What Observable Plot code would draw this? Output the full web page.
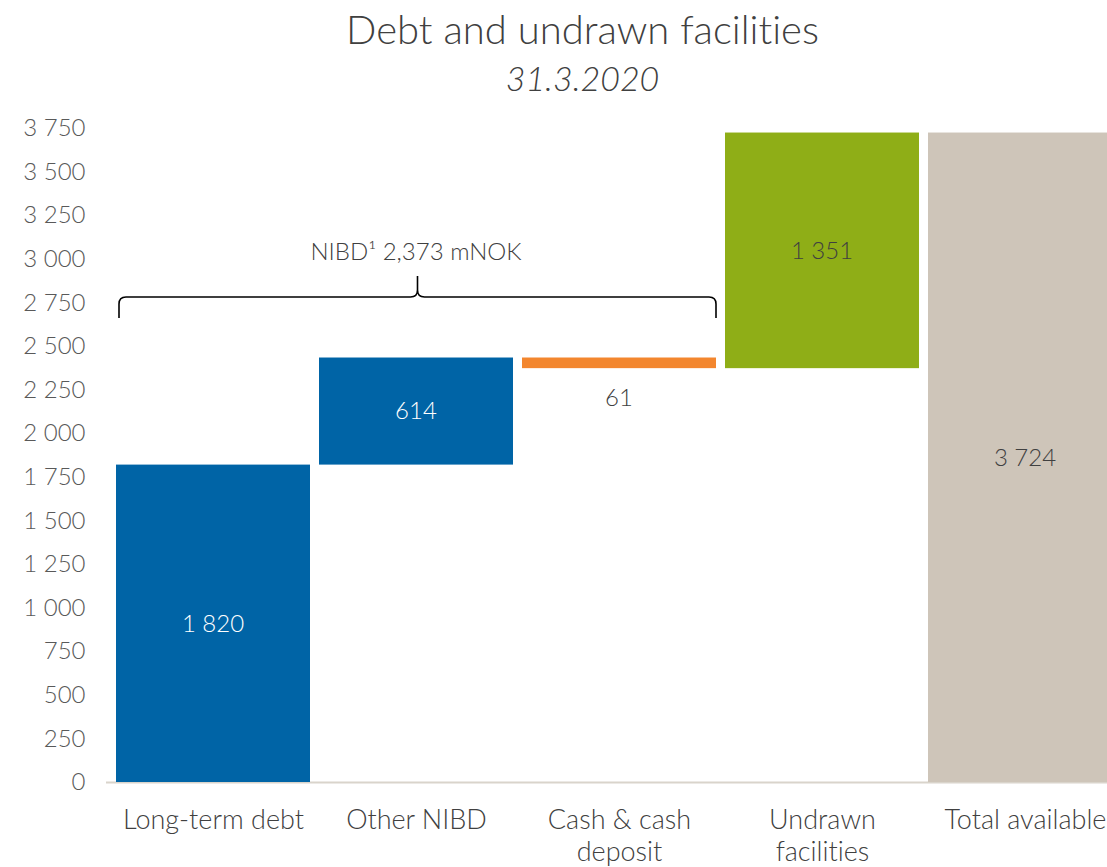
<!DOCTYPE html>
<html>
<head>
<meta charset="utf-8">
<script src="https://cdn.jsdelivr.net/npm/d3@7"></script>
<script src="https://cdn.jsdelivr.net/npm/@observablehq/plot@0.6"></script>
<style>
  html, body { margin: 0; padding: 0; background: #fff; overflow: hidden; width: 1107px; height: 867px; }
  body { font-family: Lato, "Open Sans", sans-serif; font-weight: 300; font-variant-ligatures: none; }
  .title { box-sizing: border-box; width: 1107px; padding-left: 58px; text-align: center; color: #404040;
           font-size: 40px; height: 58px; line-height: 58px; font-weight: 300; white-space: nowrap; }
  .subtitle { box-sizing: border-box; width: 1107px; padding-left: 58px; text-align: center; color: #404040;
              font-size: 34px; font-style: italic; height: 52px; line-height: 40px; font-weight: 300; white-space: nowrap; }
  #chart { width: 1131px; }
  #chart svg { display: block; overflow: visible; max-width: none; font-variant-ligatures: none; }
</style>
</head>
<body>
<div class="title">Debt and undrawn facilities</div>
<div class="subtitle">31.3.2020</div>
<div id="chart"></div>
<script>
// ---- data ----
const categories = ["Long-term debt", "Other NIBD", "Cash & cash deposit", "Undrawn facilities", "Total available"];
const categoryLabels = ["Long-term debt", "Other NIBD", "Cash & cash\ndeposit", "Undrawn\nfacilities", "Total available"];
const values = [1820, 614, -61, 1351, 3724];
const isTotal = [false, false, false, false, true];
const barColors = ["#0064A6", "#0064A6", "#F3862E", "#8FAE17", "#CEC5B9"];
const labelColors = ["#ffffff", "#ffffff", "#404040", "#404040", "#404040"];
const yTicks = [0, 250, 500, 750, 1000, 1250, 1500, 1750, 2000, 2250, 2500, 2750, 3000, 3250, 3500, 3750];
const braceFrom = "Long-term debt";
const braceTo = "Cash & cash deposit";
const braceLevel = 2781;      // horizontal part of the brace
const braceEnds = 2661;       // ends of the brace
const braceTip = 2901;        // tip of the brace
const braceText = "NIBD\u00B9 2,373 mNOK";
const braceTextX = "Other NIBD";
const braceTextY = 3040;

// ---- build waterfall table ----
const fmt = d3.formatLocale({thousands: " ", grouping: [3], decimal: ","}).format(",d");
let run = 0;
const rows = categories.map((c, i) => {
  let y1, y2;
  if (isTotal[i]) { y1 = 0; y2 = values[i]; }
  else { y1 = run; y2 = run + values[i]; run = y2; }
  const lo = Math.min(y1, y2), hi = Math.max(y1, y2);
  const below = values[i] < 0;
  return {category: c, y1: lo, y2: hi, value: values[i], color: barColors[i], labelColor: labelColors[i],
          labelY: below ? lo : (lo + hi) / 2, dy: below ? 29 : 0, text: fmt(Math.abs(values[i]))};
});

const FONT = "Lato, 'Open Sans', sans-serif";

function bandCenter(x, v) {
  const bw = x.bandwidth ? x.bandwidth() : 0;
  return x(v) + bw / 2;
}

function valueLabels(index, scales) {
  const x = scales.x, y = scales.y;
  const g = d3.create("svg:g").attr("font-family", FONT).attr("font-weight", 300).attr("font-size", 24)
    .attr("text-anchor", "middle");
  for (const r of rows) {
    g.append("text")
      .attr("x", bandCenter(x, r.category))
      .attr("y", y(r.labelY) + r.dy)
      .attr("dy", "0.35em")
      .attr("fill", r.labelColor)
      .text(r.text);
  }
  g.append("text")
    .attr("x", bandCenter(x, braceTextX))
    .attr("y", y(braceTextY))
    .attr("dy", "0.35em")
    .attr("fill", "#404040")
    .text(braceText);
  return g.node();
}

function brace(index, scales) {
  const x = scales.x, y = scales.y;
  const bw = x.bandwidth ? x.bandwidth() : 0;
  const x0 = x(braceFrom) + 3, x1 = x(braceTo) + bw;
  const xm = (x0 + x1) / 2;
  const yl = y(braceLevel), ye = y(braceEnds), yt = y(braceTip);
  const r = 7;
  const p = d3.path();
  p.moveTo(x0, ye);
  p.lineTo(x0, yl + r);
  p.quadraticCurveTo(x0, yl, x0 + r, yl);
  p.lineTo(xm - r, yl);
  p.quadraticCurveTo(xm, yl, xm, yl - r);
  p.lineTo(xm, yt);
  p.moveTo(xm, yl - r);
  p.quadraticCurveTo(xm, yl, xm + r, yl);
  p.lineTo(x1 - r, yl);
  p.quadraticCurveTo(x1, yl, x1, yl + r);
  p.lineTo(x1, ye);
  return d3.create("svg:path")
    .attr("d", p.toString())
    .attr("fill", "none")
    .attr("stroke", "#000")
    .attr("stroke-width", 1.6)
    .node();
}

const chart = Plot.plot({
  width: 1131,
  height: 757,
  marginLeft: 106,
  marginRight: 0,
  marginTop: 18,
  marginBottom: 85,
  style: {fontFamily: FONT, fontWeight: 300, color: "#595959", background: "transparent", maxWidth: "none"},
  x: {domain: categories, padding: 0.0455, label: null},
  y: {domain: [0, 3750], label: null},
  marks: [
    Plot.ruleY([0], {stroke: "#D9D4CB", strokeWidth: 2}),
    Plot.barY(rows, {x: "category", y1: "y1", y2: "y2", fill: "color"}),
    valueLabels,
    brace,
    Plot.axisY({ticks: yTicks, tickSize: 0, tickPadding: 21, tickFormat: fmt, fontSize: 24, fill: "#595959", label: null}),
    Plot.axisX({tickSize: 0, tickPadding: 23, tickFormat: d => categoryLabels[categories.indexOf(d)],
                fontSize: 27, lineHeight: 1.2, fill: "#404040", label: null})
  ]
});
document.getElementById("chart").appendChild(chart);
</script>
</body>
</html>
